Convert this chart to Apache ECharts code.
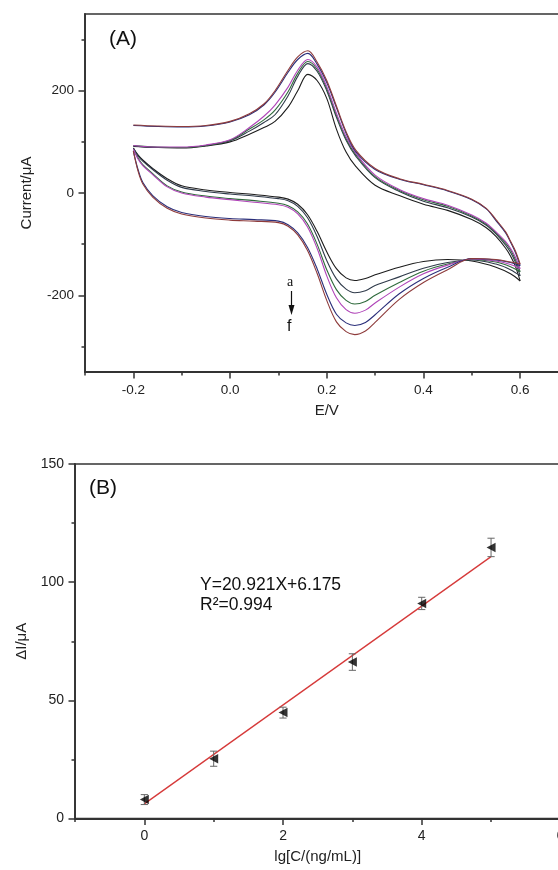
<!DOCTYPE html>
<html><head><meta charset="utf-8">
<script src="https://cdn.jsdelivr.net/npm/echarts@6/dist/echarts.min.js"></script>
<style>html,body{margin:0;padding:0;background:#fff;overflow:hidden;width:558px;height:870px}#c{width:600px;height:870px}</style>
</head><body><div id="c"></div>
<script>
// ---------- Panel A: cyclic voltammograms (a -> f) ----------
const forwardE = [-0.2,-0.15,-0.1,-0.05,0,0.04,0.07,0.093,0.12,0.14,0.161,0.18,0.2,0.22,0.24,0.26,0.3,0.35,0.4,0.45,0.5,0.53,0.55,0.57,0.58,0.59,0.6];
const reverseE = [0.6,0.58,0.55,0.5,0.45,0.4,0.35,0.3,0.28,0.258,0.24,0.22,0.2,0.18,0.16,0.14,0.12,0.1,0.05,0,-0.05,-0.1,-0.13,-0.16,-0.18,-0.19,-0.2];

const aUp = [91,89,88,92,100,115,128,140,168,200,232,220,185,125,80,52,15,-5,-22,-34,-52,-68,-85,-108,-123,-143,-172];
const bUp = [92,89,89,93,102,121,138,153,190,228,253,238,200,148,103,72,30,3,-16,-29,-47,-63,-80,-102,-116,-135,-162];
const cUp = [93,90,89,93,103,125,143,162,198,234,257,242,204,152,106,75,32,5,-13,-26,-45,-61,-78,-98,-111,-130,-154];
const dUp = [93,90,90,94,104,128,150,172,207,240,261,246,208,156,110,78,35,7,-11,-24,-43,-59,-76,-95,-108,-125,-148];
const eUp = [132,130,129,131,139,153,172,197,236,261,273,252,216,167,117,81,46,27,16,4,-13,-31,-54,-78,-96,-116,-142];
const fUp = [133,131,130,132,140,155,174,200,240,266,278,256,220,170,120,84,48,28,17,5,-12,-30,-52,-76,-94,-113,-139];

const aDown = [-172,-158,-145,-133,-130,-134,-145,-160,-167,-171,-166,-148,-115,-75,-42,-22,-12,-8,-3,1,6,14,28,48,64,74,88];
const bDown = [-162,-150,-139,-131,-136,-147,-164,-181,-191,-195,-188,-168,-132,-85,-48,-26,-15,-11,-6,-2,3,11,25,46,62,72,88];
const cDown = [-154,-144,-135,-130,-139,-153,-175,-200,-212,-217,-210,-189,-150,-100,-60,-37,-25,-20,-15,-11,-6,2,14,38,55,68,86];
const dDown = [-148,-140,-133,-129,-141,-158,-184,-215,-229,-235,-228,-205,-162,-108,-66,-41,-28,-23,-18,-13,-8,0,12,36,53,66,86];
const eDown = [-142,-136,-131,-128,-145,-167,-197,-238,-253,-259,-254,-237,-198,-148,-106,-78,-62,-55,-52,-50,-46,-38,-27,-5,20,45,82];
const fDown = [-139,-135,-130,-128,-150,-175,-208,-253,-270,-277,-271,-252,-210,-157,-112,-82,-65,-58,-55,-53,-49,-41,-30,-8,17,42,82];

const cvNames = ['a','b','c','d','e','f'];
const cvColors = ['#1c1c1c','#2f3a4a','#2f6a3c','#b044b8','#2b2f7a','#8e3b3b'];
const cvUp = [aUp,bUp,cUp,dUp,eUp,fUp];
const cvDown = [aDown,bDown,cDown,dDown,eDown,fDown];

const cvXTicks = [-0.2,0,0.2,0.4,0.6];
const cvXMinor = [-0.3,-0.1,0.1,0.3,0.5];
const cvYTicks = [-200,0,200];
const cvYMinor = [-300,-100,100,300];

// ---------- Panel B: calibration ----------
const lgC = [0,1,2,3,4,5];
const deltaI = [8.0,25.3,44.8,66.2,91.0,114.7];
const errI = [2.1,3.2,2.3,3.5,2.6,3.9];
const fitX = [0,5];
const fitY = [6.2,110.8];
const calXTicks = [0,2,4,6];
const calXMinor = [-1,1,3,5];
const calYTicks = [0,50,100,150];
const calYMinor = [25,75,125];

const FONT = 'Liberation Sans, Arial, sans-serif';
const AX = '#333';

function majorAxis(gi, min, max, ticks, fmt, fs, extra) {
  return Object.assign({
    type: 'value', gridIndex: gi, min: min, max: max,
    axisLine: {show: true, onZero: false, lineStyle: {color: AX, width: 1.8}},
    axisTick: {show: true, customValues: ticks, length: 6.5, lineStyle: {color: AX, width: 1.5}},
    axisLabel: {show: true, customValues: ticks, formatter: fmt, color: '#222', fontSize: fs, fontFamily: FONT, margin: 11},
    splitLine: {show: false}
  }, extra);
}
function minorAxis(gi, min, max, ticks, pos) {
  return {
    type: 'value', gridIndex: gi, min: min, max: max, position: pos,
    axisLine: {show: false, onZero: false},
    axisTick: {show: true, customValues: ticks, length: 3.5, lineStyle: {color: AX, width: 1.5}},
    axisLabel: {show: false},
    splitLine: {show: false}
  };
}

const series = [];
cvNames.forEach((n, i) => {
  series.push({
    type: 'line', name: n + '-up', xAxisIndex: 0, yAxisIndex: 0,
    data: forwardE.map((e, k) => [e, cvUp[i][k]]),
    smooth: 0.35, showSymbol: false, symbol: 'none',
    lineStyle: {color: cvColors[i], width: 1.1}, z: 3 + i
  });
  series.push({
    type: 'line', name: n + '-down', xAxisIndex: 0, yAxisIndex: 0,
    data: reverseE.map((e, k) => [e, cvDown[i][k]]),
    smooth: 0.35, showSymbol: false, symbol: 'none',
    lineStyle: {color: cvColors[i], width: 1.1}, z: 3 + i
  });
});

series.push({
  type: 'line', name: 'fit', xAxisIndex: 2, yAxisIndex: 2,
  data: fitX.map((x, k) => [x, fitY[k]]),
  showSymbol: false, symbol: 'none',
  lineStyle: {color: '#d63a3a', width: 1.3}, z: 3
});
series.push({
  type: 'custom', name: 'err', xAxisIndex: 2, yAxisIndex: 2,
  data: lgC.map((x, k) => [x, deltaI[k], errI[k]]),
  encode: {x: 0, y: 1},
  renderItem: function (params, api) {
    const x = api.value(0), y = api.value(1), e = api.value(2);
    const t = api.coord([x, y + e]), b = api.coord([x, y - e]);
    const w = 3.6, st = {stroke: '#666', lineWidth: 1};
    return {type: 'group', children: [
      {type: 'line', shape: {x1: t[0], y1: t[1], x2: b[0], y2: b[1]}, style: st},
      {type: 'line', shape: {x1: t[0] - w, y1: t[1], x2: t[0] + w, y2: t[1]}, style: st},
      {type: 'line', shape: {x1: b[0] - w, y1: b[1], x2: b[0] + w, y2: b[1]}, style: st}
    ]};
  }, z: 4
});
series.push({
  type: 'scatter', name: 'dI', xAxisIndex: 2, yAxisIndex: 2,
  data: lgC.map((x, k) => [x, deltaI[k]]),
  symbol: 'path://M0,5 L10,0 L10,10 Z', symbolSize: [9, 9.5],
  itemStyle: {color: '#000'}, z: 5
});

const chart = echarts.init(document.getElementById('c'), null, {renderer: 'canvas', width: 600, height: 870});
chart.setOption({
  animation: false,
  backgroundColor: '#fff',
  grid: [
    {left: 85, top: 14, width: 483.5, height: 358, show: true, borderColor: AX, borderWidth: 1.6},
    {left: 75, top: 464, width: 485.4, height: 354.5, show: true, borderColor: AX, borderWidth: 1.6}
  ],
  xAxis: [
    majorAxis(0, -0.3, 0.7, cvXTicks, v => v.toFixed(1), 13.5,
      {position: 'bottom', name: 'E/V', nameLocation: 'middle', nameGap: 31,
       nameTextStyle: {fontSize: 15, fontFamily: FONT, color: '#222'}}),
    minorAxis(0, -0.3, 0.7, cvXMinor, 'bottom'),
    majorAxis(1, -1, 6, calXTicks, v => String(v), 14,
      {position: 'bottom', name: 'lg[C/(ng/mL)]', nameLocation: 'middle', nameGap: 31,
       nameTextStyle: {fontSize: 15, fontFamily: FONT, color: '#222'}}),
    minorAxis(1, -1, 6, calXMinor, 'bottom')
  ],
  yAxis: [
    majorAxis(0, -350, 350, cvYTicks, v => String(v), 13.5,
      {position: 'left', name: 'Current/μA', nameLocation: 'middle', nameGap: 51,
       nameTextStyle: {fontSize: 15, fontFamily: FONT, color: '#222'}}),
    minorAxis(0, -350, 350, cvYMinor, 'left'),
    majorAxis(1, 0, 150, calYTicks, v => String(v), 14,
      {position: 'left', name: 'ΔI/μA', nameLocation: 'middle', nameGap: 40,
       nameTextStyle: {fontSize: 15, fontFamily: FONT, color: '#222'}}),
    minorAxis(1, 0, 150, calYMinor, 'left')
  ],
  series: series,
  graphic: [
    {type: 'text', left: 109, top: 29, style: {text: '(A)', fontSize: 21, fontFamily: FONT, fill: '#111'}},
    {type: 'text', left: 89, top: 478, style: {text: '(B)', fontSize: 21, fontFamily: FONT, fill: '#111'}},
    {type: 'text', left: 200, top: 576, style: {text: 'Y=20.921X+6.175', fontSize: 17.5, fontFamily: FONT, fill: '#111'}},
    {type: 'text', left: 200, top: 596, style: {text: 'R²=0.994', fontSize: 17.5, fontFamily: FONT, fill: '#111'}},
    {type: 'text', left: 287, top: 275, style: {text: 'a', fontSize: 14, fontFamily: 'Liberation Serif, serif', fill: '#111'}},
    {type: 'line', shape: {x1: 291.5, y1: 291, x2: 291.5, y2: 308}, style: {stroke: '#111', lineWidth: 1.2}},
    {type: 'polygon', shape: {points: [[288.5, 305], [294.5, 305], [291.5, 315]]}, style: {fill: '#111'}},
    {type: 'text', left: 287, top: 319, style: {text: 'f', fontSize: 16, fontFamily: FONT, fill: '#111'}}
  ]
});
</script>
</body></html>
